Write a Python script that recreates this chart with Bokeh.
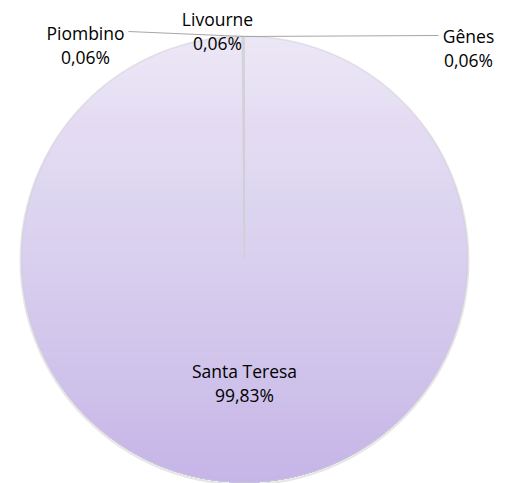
import numpy as np
from bokeh.plotting import figure
from bokeh.models import Range1d, ColumnDataSource
from bokeh.core.properties import value
from bokeh.embed import file_html
from bokeh.resources import INLINE

# ---- data ----
categories = ["Santa Teresa", "Piombino", "Livourne", "Gênes"]
percentages = [99.83, 0.06, 0.06, 0.06]

# ---- layout (styling constants) ----
W, H = 511, 483
CX, CY, R = 244, 224, 223
FONT = value("Open Sans")

p = figure(width=W, height=H, output_backend="svg", toolbar_location=None,
           x_range=Range1d(0, W), y_range=Range1d(0, H), min_border=0)
p.axis.visible = False
p.grid.visible = False
p.outline_line_color = None
p.background_fill_color = "white"

# soft shadow ring
p.circle(x=[CX], y=[CY - 1], radius=R + 1, fill_color=None,
         line_color="#9a9a9a", line_alpha=0.25, line_width=2)

# vertical gradient fill (decorative), clipped to the pie circle
top = np.array([236, 231, 246])
bot = np.array([198, 183, 231])
ys = np.arange(CY + R - 0.5, CY - R, -1.0)
t = (CY + R - ys) / (2 * R)
hw = np.sqrt(np.clip(R**2 - (ys - CY) ** 2, 0, None))
cols = ["#%02x%02x%02x" % tuple(int(round(c)) for c in (top + (bot - top) * ti)) for ti in t]
p.hbar(y=ys, left=CX - hw, right=CX + hw, height=1.05, color=cols)

# wedges from data (clockwise from 12 o'clock)
vals = np.array(percentages)
fr = vals / vals.sum() * 2 * np.pi
ends = np.pi / 2 - np.cumsum(fr)
starts = np.concatenate([[np.pi / 2], ends[:-1]])
src = ColumnDataSource(dict(cat=categories, start=starts, end=ends))
p.wedge(x=CX, y=CY, radius=R, start_angle="start", end_angle="end",
        direction="clock", source=src, fill_alpha=0,
        line_color="#cfcfcf", line_width=0.6, line_alpha=0.8)

# labels
labels_pct = [("%.2f" % v).replace(".", ",") + "%" for v in percentages]
lab_x = [244, 85, 217, 468]
lab_y = [113, 451, 465, 448]
LINE = 24
p.text(x=lab_x, y=lab_y, text=categories, text_font=FONT, text_font_size="17.5px",
       text_align="center", text_baseline="alphabetic", text_color="#000000")
p.text(x=lab_x, y=[y - LINE for y in lab_y], text=labels_pct, text_font=FONT,
       text_font_size="17.5px", text_align="center", text_baseline="alphabetic",
       text_color="#000000")

# leader lines (Piombino and Gênes)
top_pt = (CX, CY + R)
p.line(x=[128, top_pt[0]], y=[452, top_pt[1]], line_color="#a6a6a6", line_width=1.2)
p.line(x=[top_pt[0], 438], y=[top_pt[1], 448], line_color="#a6a6a6", line_width=1.2)

open("out.html", "w").write(file_html(p, INLINE))
